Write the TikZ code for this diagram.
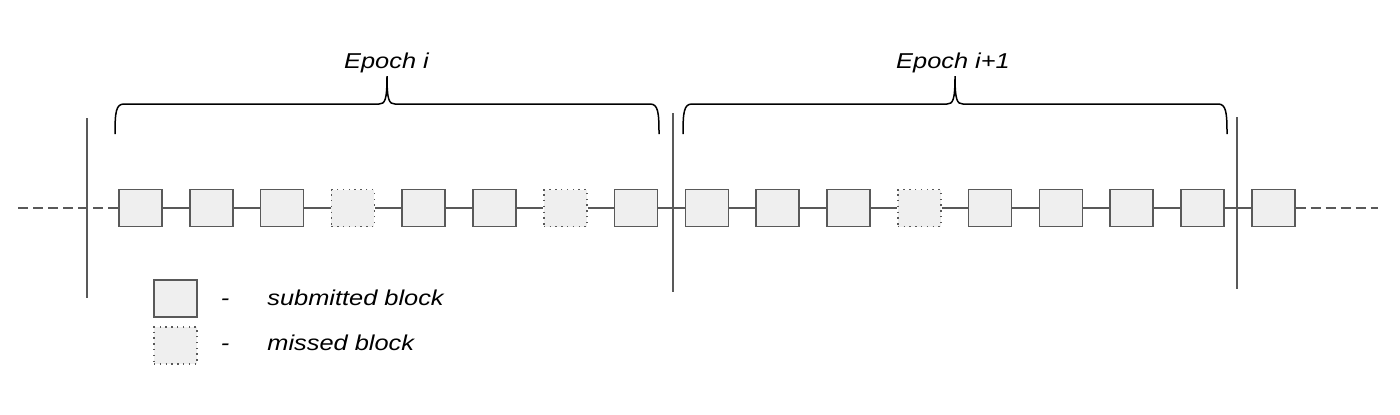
\documentclass[tikz,border=0pt]{standalone}
\usepackage{fontspec}
\setmainfont{Liberation Sans}
\usepackage{graphicx}
\definecolor{blockfill}{HTML}{EFEFEF}
\definecolor{blockline}{HTML}{595959}
\newcommand{\wide}[1]{\scalebox{1.18}[1]{#1}}
% brace over one epoch: left end, tip, right end
\newcommand{\epochbrace}[3]{%
  \draw[black, line width=0.75pt] (#1,134) .. controls (#1,112) and ({#1+1},104) .. ({#1+9},104)
    -- ({#2-8},104) .. controls ({#2-2},104) and (#2,100) .. (#2,76)
    .. controls (#2,100) and ({#2+2},104) .. ({#2+8},104)
    -- ({#3-9},104) .. controls ({#3-1},104) and (#3,112) .. (#3,134);}

\begin{document}
\begin{tikzpicture}[x=0.5pt, y=-0.5pt,
    sub/.style={draw=blockline, fill=blockfill, line width=0.75pt, minimum width=21.5pt, minimum height=18.5pt, inner sep=0pt},
    miss/.style={sub, line width=0.7pt, dash pattern=on 0.7pt off 2.2pt},
    lbl/.style={font=\fontsize{10.75pt}{13pt}\selectfont\itshape, inner sep=0pt},
    link/.style={blockline, line width=0.6pt}]
    \useasboundingbox (0,0) rectangle (1400,414);

    % chain of blocks
    \foreach \k in {1,2,3,5,6,8,9,10,11,13,14,15,16,17} {
        \node[sub] (b\k) at ({140.5+70.8*(\k-1)},208) {};
    }
    \foreach \k in {4,7,12} {
        \node[miss] (b\k) at ({140.5+70.8*(\k-1)},208) {};
    }
    \foreach \k [count=\j from 2] in {1,...,16} {
        \draw[link] (b\k) -- (b\j);
    }
    \coordinate (lend) at (18,208);
    \coordinate (rend) at (1378,208);
    \draw[link, dash pattern=on 5pt off 2.5pt] (lend) -- (b1);
    \draw[link, dash pattern=on 5pt off 2.5pt] (b17) -- (rend);

    % epoch borders
    \draw[blockline, line width=0.6pt] (87,118) -- (87,298);
    \draw[blockline, line width=0.6pt] (673,113) -- (673,292);
    \draw[blockline, line width=0.6pt] (1237,117) -- (1237,289);

    % epochs
    \epochbrace{115}{387}{659}
    \epochbrace{683}{955}{1227}
    \node[lbl, anchor=base] (ep1) at (386.5,68) {\wide{Epoch i}};
    \node[lbl, anchor=base] (ep2) at (953,68) {\wide{Epoch i+1}};

    % legend
    \node[sub] (lsub) at (175.5,298.5) {};
    \node[miss] (lmiss) at (175.5,345.5) {};
    \node[lbl, anchor=base] (dsub) at (225,305.5) {\wide{-}};
    \node[lbl, anchor=base] (dmiss) at (225,350) {\wide{-}};
    \node[lbl, anchor=base west] (tsub) at (267,305.5) {\wide{submitted block}};
    \node[lbl, anchor=base west] (tmiss) at (267,350) {\wide{missed block}};
\end{tikzpicture}
\end{document}
